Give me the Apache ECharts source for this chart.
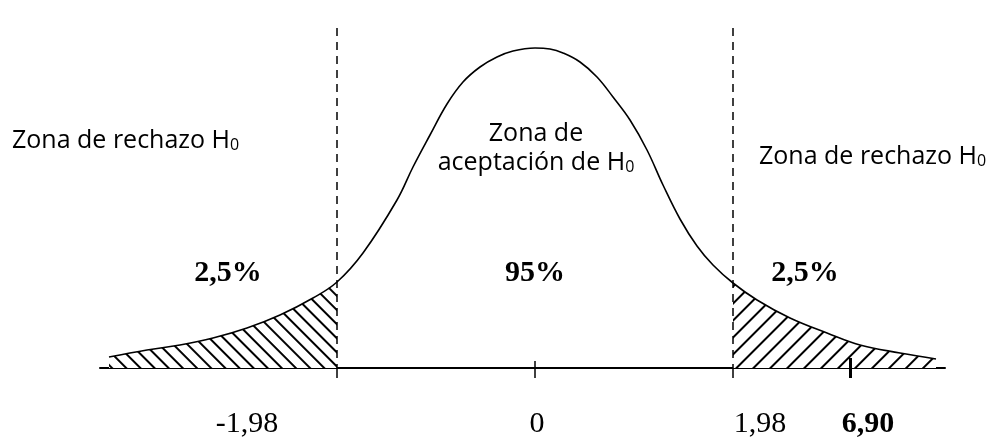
<!DOCTYPE html>
<html>
<head>
<meta charset="utf-8">
<script src="https://cdn.jsdelivr.net/npm/echarts@6/dist/echarts.min.js"></script>
<style>
  html, body { margin: 0; padding: 0; background: #fff; }
  #chart { width: 998px; height: 439px; }
</style>
</head>
<body>
<div id="chart"></div>
<script>
// curve (x in drawing units, centre = 0, critical values at +-1.98)
const curveX = [-4.26, -3.88, -3.55, -3.22, -2.88, -2.55, -2.22, -1.98, -1.72, -1.38, -1.22, -1.05,
  -0.88, -0.72, -0.55, -0.38, -0.22, 0, 0.15, 0.28, 0.45, 0.62, 0.78, 0.95, 1.12, 1.28, 1.45, 1.62, 1.78,
  1.98, 2.22, 2.55, 2.92, 3.25, 3.65, 4.01];
const curveY = [11, 18, 23, 30, 40, 53, 70, 86, 115, 168, 201, 233,
  264, 286, 301, 311, 317, 320, 319, 315, 306, 291, 271, 248, 218, 183, 149, 122, 103,
  85, 68, 50, 35, 23, 15, 9];
const critical = [-1.98, 1.98];
const tickValues = [-1.98, 0, 1.98];
const statValue = 3.15; // where the 6,90 mark sits in the drawing
const tickLabels = ['-1,98', '0', '1,98', '6,90'];
const pctLabels = ['2,5%', '95%', '2,5%'];

const points = curveX.map((x, i) => [x, curveY[i]]);
const leftTail = points.filter(p => p[0] <= critical[0]);
const rightTail = points.filter(p => p[0] >= critical[1]);

const myChart = echarts.init(document.getElementById('chart'));

const hatch = (rot, gap) => ({
  symbol: 'rect',
  symbolSize: 1,
  dashArrayX: [1, 0],
  dashArrayY: [1.5, gap],
  rotation: rot,
  color: '#000',
  backgroundColor: '#fff'
});

const tailSeries = (data, decal) => ({
  type: 'line',
  data: data,
  smooth: 0.4,
  symbol: 'none',
  silent: true,
  z: 1,
  lineStyle: { width: 0, color: '#fff', decal: decal },
  itemStyle: { color: '#fff', decal: decal },
  areaStyle: { color: '#fff', opacity: 1, decal: decal }
});

const sans = '"Open Sans", sans-serif';
const serif = '"Liberation Serif", "Times New Roman", serif';
const subRich = { s: { font: '16px ' + sans, fill: '#000', verticalAlign: 'bottom', lineHeight: 16 } };

const textEl = (x, y, txt, font, align, rich) => ({
  type: 'text',
  x: x,
  y: y,
  style: {
    text: txt,
    font: font,
    fill: '#000',
    textAlign: align,
    textVerticalAlign: 'middle',
    rich: rich
  }
});

const option = {
  animation: false,
  grid: { left: 100, right: 53, top: 0, bottom: 51 },
  xAxis: {
    type: 'value',
    min: -4.35,
    max: 4.1,
    axisLine: { onZero: true, lineStyle: { color: '#000', width: 2 } },
    axisTick: { show: false },
    axisLabel: { show: false },
    splitLine: { show: false }
  },
  yAxis: {
    type: 'value',
    min: -20,
    max: 368,
    show: false
  },
  series: [
    tailSeries(leftTail, hatch(Math.PI / 4, 8)),
    tailSeries(rightTail, hatch(-Math.PI / 4, 10)),
    {
      type: 'line',
      data: points,
      smooth: 0.4,
      symbol: 'none',
      silent: true,
      z: 3,
      lineStyle: { color: '#000', width: 1.6 },
      markLine: {
        symbol: 'none',
        silent: true,
        label: { show: false },
        animation: false,
        data: [
          ...critical.map(c => [
            { coord: [c, 340], lineStyle: { type: [8, 6], width: 1.5, color: '#000' } },
            { coord: [c, 0] }
          ]),
          ...tickValues.map(t => [
            { coord: [t, t === 0 ? 7 : 0], lineStyle: { type: 'solid', width: 1.5, color: '#000' } },
            { coord: [t, -10] }
          ]),
          [
            { coord: [statValue, 10], lineStyle: { type: 'solid', width: 3, color: '#000' } },
            { coord: [statValue, -10] }
          ]
        ]
      }
    }
  ],
  graphic: [
    textEl(12, 141, 'Zona de rechazo H{s|0}', '25px ' + sans, 'left', subRich),
    textEl(759, 157, 'Zona de rechazo H{s|0}', '25px ' + sans, 'left', subRich),
    textEl(536, 134, 'Zona de', '25px ' + sans, 'center'),
    textEl(536, 163, 'aceptación de H{s|0}', '25px ' + sans, 'center', subRich),
    textEl(228, 273, pctLabels[0], 'bold 30px ' + serif, 'center'),
    textEl(535, 273, pctLabels[1], 'bold 30px ' + serif, 'center'),
    textEl(805, 273, pctLabels[2], 'bold 30px ' + serif, 'center'),
    textEl(247, 424, tickLabels[0], '30px ' + serif, 'center'),
    textEl(537, 424, tickLabels[1], '30px ' + serif, 'center'),
    textEl(760, 424, tickLabels[2], '30px ' + serif, 'center'),
    textEl(868, 424, tickLabels[3], 'bold 30px ' + serif, 'center')
  ]
};

option && myChart.setOption(option);
</script>
</body>
</html>
